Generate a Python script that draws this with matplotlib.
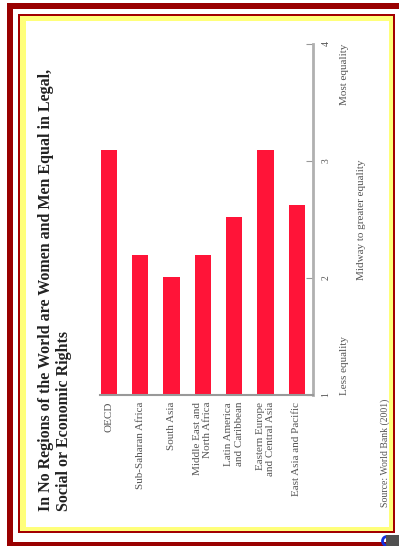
import matplotlib
matplotlib.use('Agg')
import matplotlib.pyplot as plt
from matplotlib.patches import Rectangle, Arc
import numpy as np

plt.rcParams['font.family'] = 'Liberation Serif'

regions = ['OECD', 'Sub-Saharan Africa', 'South Asia', 'Middle East and\nNorth Africa',
           'Latin America\nand Caribbean', 'Eastern Europe\nand Central Asia',
           'East Asia and Pacific']
equality = [3.09, 2.20, 2.01, 2.20, 2.52, 3.09, 2.62]
ticks = [1, 2, 3, 4]
scale_labels = ['Less equality', 'Midway to greater equality', 'Most equality']
title = ('In No Regions of the World are Women and Men Equal in Legal,\n'
         'Social or Economic Rights')
source = 'Source: World Bank (2001)'

W, H = 399, 546
fig = plt.figure(figsize=(W / 100, H / 100), dpi=100)

# page frame, in pixel units
bg = fig.add_axes([0, 0, 1, 1], zorder=0)
bg.set_xlim(0, W)
bg.set_ylim(H, 0)
bg.axis('off')
frame = [((7, 3, 420, 560), '#990000'),
         ((13, 9, 420, 542), 'white'),
         ((18, 14, 395, 533), '#A30000'),
         ((20, 16, 393, 531), '#FFFF7A'),
         ((26, 21, 389, 527), 'white')]
for (x0, y0, x1, y1), c in frame:
    bg.add_patch(Rectangle((x0, y0), x1 - x0, y1 - y0, facecolor=c, edgecolor='none'))
bg.add_patch(Arc((387, 541), 9, 9, theta1=90, theta2=270, color='#1030E0', lw=2))
bg.add_patch(Rectangle((386, 535), 14, 12, facecolor='#505050', edgecolor='none'))

# chart, turned on its side
ax = fig.add_axes([100 / W, 1 - 395 / H, 213 / W, 351 / H], zorder=1)
ax.patch.set_alpha(0)
x = np.arange(len(regions))
ax.bar(x, equality, width=0.52, color='#FF1438')
ax.set_xlim(-0.28, 6.52)
ax.set_ylim(1, 4)

ax.yaxis.tick_right()
ax.set_yticks(ticks)
ax.set_yticklabels([str(t) for t in ticks], rotation=90, va='center')
ax.set_xticks(x)
ax.set_xticklabels(regions, rotation=90, ha='center', va='top', multialignment='right')

for s in ['top', 'left']:
    ax.spines[s].set_visible(False)
ax.spines['bottom'].set_color('#999999')
ax.spines['bottom'].set_linewidth(1.5)
ax.spines['right'].set_color('#b0b0b0')
ax.spines['right'].set_linewidth(2)
ax.tick_params(axis='y', direction='in', length=5, color='#999999', pad=6,
               labelsize=7, labelcolor='#555555')
ax.tick_params(axis='x', length=0, pad=5, labelsize=8, labelcolor='#555555')

trans = ax.get_yaxis_transform()
ax.text(1.15, 1, scale_labels[0], rotation=90, ha='center', va='bottom',
        transform=trans, fontsize=8, color='#555555')
ax.text(1.23, 2.5, scale_labels[1], rotation=90, ha='center', va='center',
        transform=trans, fontsize=8, color='#555555')
ax.text(1.15, 4, scale_labels[2], rotation=90, ha='center', va='top',
        transform=trans, fontsize=8, color='#555555')

fig.text(38 / W, 1 - 511 / H, title, rotation=90, ha='left', va='bottom',
         multialignment='left', fontsize=11.5, fontweight='bold', color='#222222',
         linespacing=1.2)
fig.text(385 / W, 1 - 507 / H, source, rotation=90, ha='center', va='bottom',
         fontsize=7, color='#555555')

fig.savefig('out.png', dpi=100)
